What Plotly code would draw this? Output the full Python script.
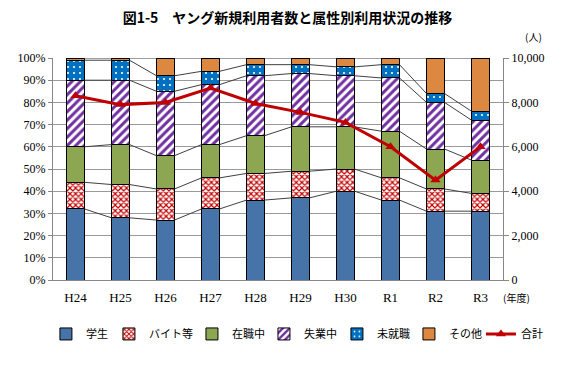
import plotly.graph_objects as go

categories = ["H24", "H25", "H26", "H27", "H28", "H29", "H30", "R1", "R2", "R3"]
student = [32, 28, 27, 32, 36, 37, 40, 36, 31, 31]
baito = [12, 15, 14, 14, 12, 12, 10, 10, 10, 8]
employed = [16, 18, 15, 15, 17, 20, 19, 21, 18, 15]
unemployed = [30, 29, 29, 27, 27, 24, 23, 24, 21, 18]
notyet = [9, 9, 7, 6, 5, 4, 4, 6, 4, 4]
other = [1, 1, 8, 6, 3, 3, 4, 3, 16, 24]
total = [8300, 7900, 8000, 8650, 7950, 7550, 7100, 6000, 4500, 6000]

series = [
    ("学生", student, dict(color="#4674A8")),
    ("バイト等", baito, dict(color="white", pattern=dict(shape="x", fgcolor="#C00000", bgcolor="white", size=4, solidity=0.5, fillmode="replace"))),
    ("在職中", employed, dict(color="#8CA652")),
    ("失業中", unemployed, dict(color="white", pattern=dict(shape="/", fgcolor="#7030A0", bgcolor="white", size=6, solidity=0.5, fillmode="replace"))),
    ("未就職", notyet, dict(color="#0070C0", pattern=dict(shape=".", fgcolor="white", bgcolor="#0070C0", size=6, solidity=0.1, fillmode="replace"))),
    ("その他", other, dict(color="#DD8840")),
]

xs = list(range(len(categories)))
bw = 0.4
font_serif = "Liberation Serif"
font_jp = "Noto Sans CJK JP"

# legend placement (paper x of each legend entry), layout only
legend_x = [-0.0157, 0.1243, 0.3088, 0.4688, 0.631, 0.791, 0.951]
legend_ids = ["legend"] + [f"legend{i}" for i in range(2, 8)]

fig = go.Figure()

cum = [0] * len(categories)
line_x, line_y = [], []
for k, (name, vals, marker) in enumerate(series):
    cum = [c + v for c, v in zip(cum, vals)]
    for i in range(len(categories) - 1):
        line_x += [xs[i] + bw / 2, xs[i + 1] - bw / 2, None]
        line_y += [cum[i], cum[i + 1], None]
    m = dict(marker)
    m["line"] = dict(color="black", width=1)
    fig.add_trace(go.Bar(x=xs, y=vals, name=name, marker=m, width=bw, legend=legend_ids[k]))

fig.add_trace(go.Scatter(x=line_x, y=line_y, mode="lines", line=dict(color="#404040", width=1),
                         showlegend=False, hoverinfo="skip"))

fig.add_trace(go.Scatter(x=xs, y=total, name="合計", yaxis="y2", mode="lines+markers",
                         line=dict(color="#C00000", width=3), legend=legend_ids[6],
                         marker=dict(symbol="triangle-up", size=9, color="#C00000")))

legend_layout = {}
for lid, lx in zip(legend_ids, legend_x):
    legend_layout[lid] = dict(orientation="h", x=lx, xanchor="left", y=-0.243, yanchor="middle",
                              font=dict(family=font_jp, size=11, color="black"), itemwidth=30,
                              bgcolor="rgba(0,0,0,0)")

fig.update_layout(
    barmode="stack",
    width=559, height=362,
    margin=dict(l=45, r=64, t=50, b=90, autoexpand=False),
    plot_bgcolor="white", paper_bgcolor="white",
    title=dict(text="<b>図1-5　ヤング新規利用者数と属性別利用状況の推移</b>", x=0.5, xanchor="center",
               y=0.972, yanchor="middle", font=dict(family=font_jp, size=14, color="black")),
    xaxis=dict(tickmode="array", tickvals=xs, ticktext=categories, range=[-0.5, len(categories) - 0.5],
               showgrid=False, showline=True, linecolor="#888888", linewidth=1,
               ticks="outside", ticklen=5, tickcolor="rgba(0,0,0,0)",
               tickfont=dict(family=font_serif, size=13, color="black")),
    yaxis=dict(range=[0, 100], tickvals=list(range(0, 101, 10)),
               ticktext=[f"{v}%" for v in range(0, 101, 10)],
               showgrid=True, gridcolor="#999999", gridwidth=1, showline=True, linecolor="#888888",
               ticks="outside", ticklen=4, tickcolor="#888888",
               tickfont=dict(family=font_serif, size=12, color="black"), zeroline=False),
    yaxis2=dict(range=[0, 10000], tickvals=list(range(0, 10001, 2000)), overlaying="y", side="right",
                showgrid=False, showline=True, linecolor="#888888", ticks="outside", ticklen=5,
                tickcolor="#888888", tickformat=",d",
                tickfont=dict(family=font_serif, size=12, color="black"), zeroline=False),
    showlegend=True,
    annotations=[
        dict(text="(人)", x=1.067, y=1.095, xref="paper", yref="paper", showarrow=False,
             xanchor="center", yanchor="middle",
             font=dict(family=font_jp, size=10, color="black")),
        dict(text="(年度)", x=1.029, y=-0.077, xref="paper", yref="paper", showarrow=False,
             xanchor="center", yanchor="middle",
             font=dict(family=font_jp, size=10, color="black")),
    ],
    **legend_layout,
)

fig.write_html("out.html")
